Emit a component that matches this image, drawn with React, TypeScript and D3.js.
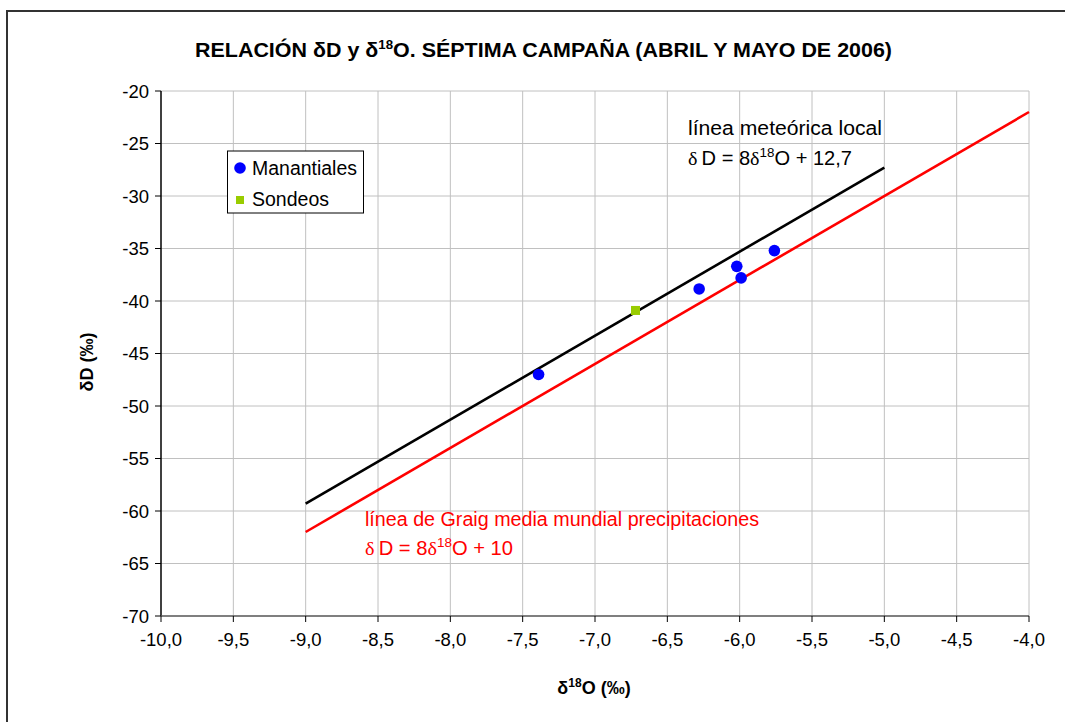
import React from "react";
import * as d3 from "d3";

const xTicks = [-10, -9.5, -9, -8.5, -8, -7.5, -7, -6.5, -6, -5.5, -5, -4.5, -4];
const yTicks = [-20, -25, -30, -35, -40, -45, -50, -55, -60, -65, -70];

const manantialesX = [-7.39, -6.28, -6.02, -5.99, -5.76];
const manantialesY = [-47.0, -38.85, -36.7, -37.8, -35.2];

const sondeosX = [-6.72];
const sondeosY = [-40.9];

// local meteoric line: dD = 8 d18O + 12.7
const localLineX = [-9, -5];
const localSlope = 8;
const localIntercept = 12.7;
// Craig global meteoric water line: dD = 8 d18O + 10
const craigLineX = [-9, -4];
const craigSlope = 8;
const craigIntercept = 10;

const FONT = "'Liberation Sans', Arial, sans-serif";

export default function App() {
  const x = d3.scaleLinear().domain([-10, -4]).range([161, 1029]);
  const y = d3.scaleLinear().domain([-70, -20]).range([616, 91]);
  const fmt = (v: number) => v.toFixed(1).replace(".", ",");
  const line = d3
    .line<number[]>()
    .x((d) => x(d[0]))
    .y((d) => y(d[1]));
  const localPts = localLineX.map((v) => [v, localSlope * v + localIntercept]);
  const craigPts = craigLineX.map((v) => [v, craigSlope * v + craigIntercept]);
  const [x0, x1] = x.range();
  const [yb, yt] = y.range();

  return (
    <svg
      width={1065}
      height={722}
      style={{ position: "absolute", left: 0, top: 0, background: "#fff" }}
      fontFamily={FONT}
    >
      <rect x={0} y={0} width={1065} height={722} fill="#fff" />
      {/* outer border */}
      <path d="M7,730 L7,11 L1070,11" fill="none" stroke="#333" strokeWidth={2} />

      {/* title */}
      <text
        x={195}
        y={57}
        fontSize={21}
        fontWeight="bold"
        textLength={697}
        lengthAdjust="spacingAndGlyphs"
      >
        RELACIÓN δD y δ<tspan dy={-8} fontSize={13}>18</tspan>
        <tspan dy={8}>O. SÉPTIMA CAMPAÑA (ABRIL Y MAYO DE 2006)</tspan>
      </text>

      {/* grid */}
      {xTicks.slice(1).map((t) => (
        <line key={"gx" + t} x1={x(t)} x2={x(t)} y1={yt} y2={yb} stroke="#c0c0c0" strokeWidth={1} />
      ))}
      {yTicks.slice(0, -1).map((t) => (
        <line key={"gy" + t} x1={x0} x2={x1} y1={y(t)} y2={y(t)} stroke="#c0c0c0" strokeWidth={1} />
      ))}

      {/* axes */}
      <line x1={x0} x2={x0} y1={yt} y2={yb} stroke="#000" strokeWidth={1.5} />
      <line x1={x0} x2={x1} y1={yb} y2={yb} stroke="#555" strokeWidth={1.5} />
      {yTicks.map((t) => (
        <g key={"ty" + t}>
          <line x1={x0 - 6} x2={x0} y1={y(t)} y2={y(t)} stroke="#000" strokeWidth={1} />
          <text x={x0 - 12} y={y(t) + 6.5} fontSize={18.5} textAnchor="end">
            {t}
          </text>
        </g>
      ))}
      {xTicks.map((t) => (
        <g key={"tx" + t}>
          <line x1={x(t)} x2={x(t)} y1={yb} y2={yb + 6} stroke="#000" strokeWidth={1} />
          <text x={x(t)} y={yb + 30} fontSize={18.5} textAnchor="middle">
            {fmt(t)}
          </text>
        </g>
      ))}

      {/* axis titles */}
      <text x={594} y={694} fontSize={18} fontWeight="bold" textAnchor="middle">
        δ<tspan dy={-7} fontSize={12}>18</tspan>
        <tspan dy={7}>O (‰)</tspan>
      </text>
      <text
        transform="translate(93,362) rotate(-90)"
        fontSize={18}
        fontWeight="bold"
        textAnchor="middle"
      >
        δD (‰)
      </text>

      {/* lines */}
      <path d={line(craigPts) || ""} fill="none" stroke="#ff0000" strokeWidth={2.6} />
      <path d={line(localPts) || ""} fill="none" stroke="#000" strokeWidth={2.6} />

      {/* points */}
      {sondeosX.map((v, i) => (
        <rect key={"s" + i} x={x(v) - 4.5} y={y(sondeosY[i]) - 4.5} width={9} height={9} fill="#99cc00" />
      ))}
      {manantialesX.map((v, i) => (
        <circle key={"m" + i} cx={x(v)} cy={y(manantialesY[i])} r={5.8} fill="#0000ff" />
      ))}

      {/* annotations */}
      <text x={688} y={135} fontSize={19.5} fill="#000" textLength={194} lengthAdjust="spacingAndGlyphs">
        línea meteórica local
      </text>
      <text x={688} y={165} fontSize={19.5} fill="#000" textLength={164} lengthAdjust="spacingAndGlyphs">
        <tspan fontFamily="'Liberation Serif', serif">δ</tspan>
        <tspan dx={4}>D = 8</tspan>
        <tspan fontFamily="'Liberation Serif', serif">δ</tspan>
        <tspan dy={-8} fontSize={13}>18</tspan>
        <tspan dy={8}>O + 12,7</tspan>
      </text>
      <text x={365} y={526} fontSize={19.5} fill="#ff0000" textLength={394} lengthAdjust="spacingAndGlyphs">
        línea de Graig media mundial precipitaciones
      </text>
      <text x={365} y={555} fontSize={19.5} fill="#ff0000" textLength={148} lengthAdjust="spacingAndGlyphs">
        <tspan fontFamily="'Liberation Serif', serif">δ</tspan>
        <tspan dx={4}>D = 8</tspan>
        <tspan fontFamily="'Liberation Serif', serif">δ</tspan>
        <tspan dy={-8} fontSize={13}>18</tspan>
        <tspan dy={8}>O + 10</tspan>
      </text>

      {/* legend */}
      <rect x={227.5} y={151} width={136} height={62} fill="#fff" stroke="#000" strokeWidth={1} />
      <circle cx={240} cy={168} r={5.8} fill="#0000ff" />
      <text x={252} y={175} fontSize={19.5} textLength={105} lengthAdjust="spacingAndGlyphs">Manantiales</text>
      <rect x={236} y={196} width={8} height={8} fill="#99cc00" />
      <text x={252} y={206} fontSize={19.5}>Sondeos</text>
    </svg>
  );
}
